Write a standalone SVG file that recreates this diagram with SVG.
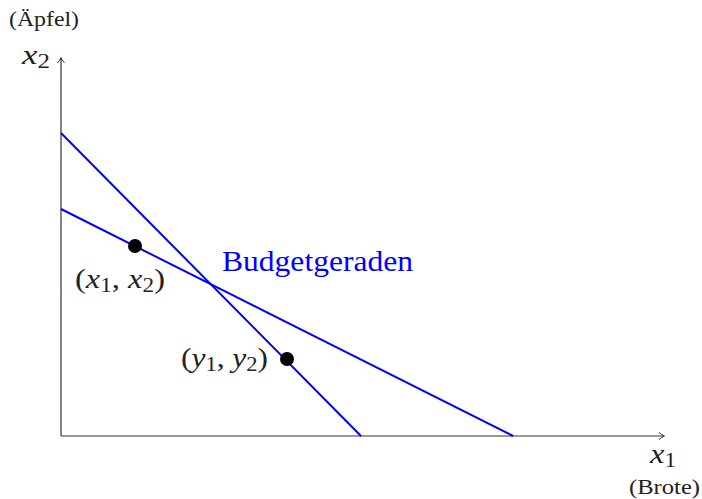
<svg xmlns="http://www.w3.org/2000/svg" width="702" height="499" viewBox="0 0 702 499">
<style>
.ax{stroke:#333;stroke-width:1.2;fill:none}
.bl{stroke:#0000ff;stroke-width:2;fill:none}
.t{font-family:"Liberation Serif","Times New Roman",serif;fill:#222}
.m{font-style:italic}
.s{font-size:20px}
</style>
<defs>
<marker id="ah" markerWidth="10" markerHeight="10" refX="7" refY="5" orient="auto" markerUnits="userSpaceOnUse">
<path d="M2,1.5 Q5,4 7.5,5 Q5,6 2,8.5" stroke="#333" stroke-width="1" fill="none"/>
</marker>
</defs>
<g id="axes">
<line class="ax" x1="61" y1="436" x2="664" y2="436" marker-end="url(#ah)"/>
<line class="ax" x1="61" y1="436" x2="61" y2="58" marker-end="url(#ah)"/>
</g>
<g id="connectors">
<line class="bl" x1="61" y1="133" x2="361" y2="436"/>
<line class="bl" x1="61" y1="209" x2="513" y2="436"/>
</g>
<g id="p1"><circle cx="135" cy="246" r="7" fill="#000"/></g>
<g id="p2"><circle cx="287" cy="359" r="7" fill="#000"/></g>
<g id="labels">
<text class="t" x="9" y="26" font-size="20" textLength="70" lengthAdjust="spacingAndGlyphs">(Äpfel)</text>
<text class="t" x="22" y="64" font-size="28" textLength="28" lengthAdjust="spacingAndGlyphs"><tspan class="m">x</tspan><tspan class="s" dy="4">2</tspan></text>
<text class="t" x="650" y="463" font-size="28" textLength="26" lengthAdjust="spacingAndGlyphs"><tspan class="m">x</tspan><tspan class="s" dy="4">1</tspan></text>
<text class="t" x="629" y="494" font-size="20" textLength="71" lengthAdjust="spacingAndGlyphs">(Brote)</text>
<text x="222" y="271" font-size="29" font-family="'Liberation Serif','Times New Roman',serif" fill="#0000ff" textLength="191" lengthAdjust="spacingAndGlyphs">Budgetgeraden</text>
<text class="t" x="75" y="288" font-size="28" textLength="90" lengthAdjust="spacingAndGlyphs">(<tspan class="m">x</tspan><tspan class="s" dy="4">1</tspan><tspan dy="-4">, </tspan><tspan class="m">x</tspan><tspan class="s" dy="4">2</tspan><tspan dy="-4">)</tspan></text>
<text class="t" x="181" y="367" font-size="28" textLength="87" lengthAdjust="spacingAndGlyphs">(<tspan class="m">y</tspan><tspan class="s" dy="4">1</tspan><tspan dy="-4">, </tspan><tspan class="m">y</tspan><tspan class="s" dy="4">2</tspan><tspan dy="-4">)</tspan></text>
</g>
</svg>
